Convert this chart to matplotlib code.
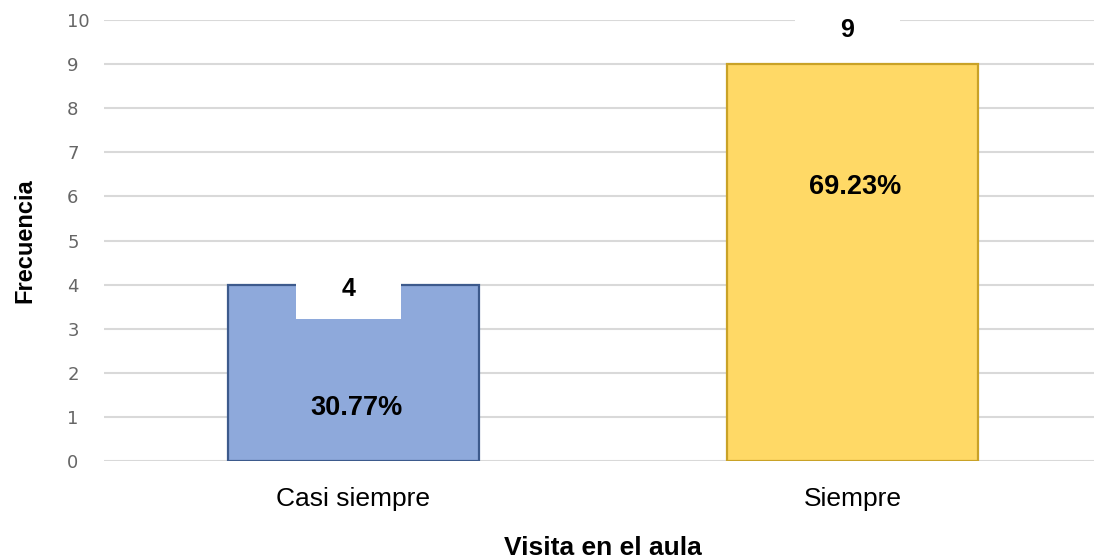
import matplotlib.pyplot as plt

# Data
categories = ['Casi siempre', 'Siempre']
counts = [4, 9]
percent_labels = ['30.77%', '69.23%']

fill_colors = ['#8EA9DB', '#FFD966']
edge_colors = ['#3D5A8C', '#C9A227']

plt.rcParams['font.family'] = ['Liberation Sans', 'DejaVu Sans']

fig = plt.figure(figsize=(10.94, 5.6), dpi=100)
ax = fig.add_axes([104 / 1094, 1 - 461 / 560, 998 / 1094, 441 / 560])

x = list(range(len(categories)))
ax.bar(x, counts, width=0.503, color=fill_colors, edgecolor=edge_colors,
       linewidth=1.6, zorder=2)

# count labels with white box, percentage labels inside bars
count_offsets = [-0.11, 0.78]
pct_y = [1.21, 6.21]
for i, (v, p) in enumerate(zip(counts, percent_labels)):
    ax.text(i - 0.01, v + count_offsets[i], f'    {v}    ', ha='center', va='center',
            fontsize=18, fontweight='bold', color='black', zorder=4,
            bbox=dict(boxstyle='square,pad=0.7', facecolor='white', edgecolor='none'),
            clip_on=False)
    ax.text(i + 0.005, pct_y[i], p, ha='center', va='center', fontsize=19.5,
            fontweight='bold', color='black', zorder=4)

ax.set_xlim(-0.5, 1.5)
ax.set_ylim(0, 10)
ax.set_yticks(range(0, 11))
ax.yaxis.grid(True, color='#D9D9D9', linewidth=1.5, zorder=0)
ax.set_axisbelow(True)
for s in ax.spines.values():
    s.set_visible(False)

ax.set_xticks(x)
ax.set_xticklabels(categories, fontsize=19)
ax.tick_params(axis='x', length=0, pad=19)
ax.tick_params(axis='y', length=0, pad=26.5, labelsize=13, labelcolor='#666666')
for lbl in ax.get_yticklabels():
    lbl.set_horizontalalignment('left')
    lbl.set_fontfamily('DejaVu Sans')

ax.set_xlabel('Visita en el aula', fontsize=19, fontweight='bold', labelpad=18)
ax.set_ylabel('Frecuencia', fontsize=17, fontweight='bold', labelpad=22)

fig.savefig('out.png', dpi=100)
